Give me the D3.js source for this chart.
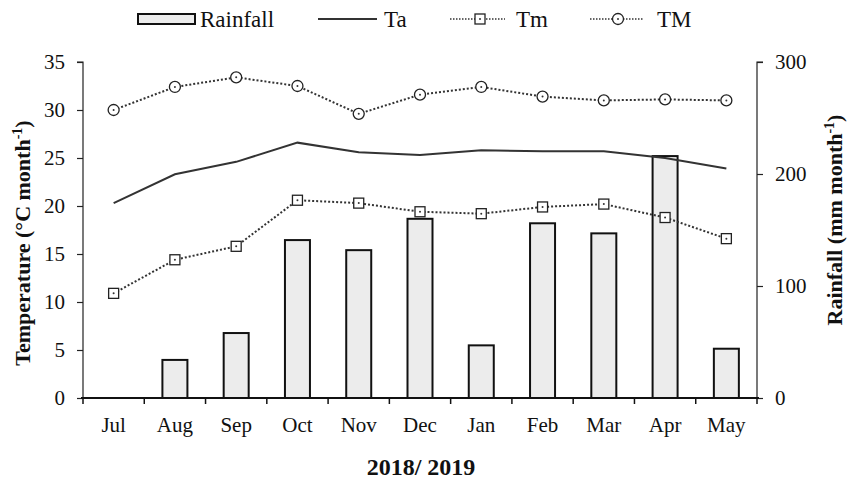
<!DOCTYPE html>
<html lang="en">
<head>
<meta charset="UTF-8">
<title>Temperature and rainfall</title>
<script src="https://d3js.org/d3.v7.min.js"></script>
<style>
  body { margin: 0; background: #fff; }
  svg text { font-family: "Liberation Serif", "Times New Roman", serif; fill: #111; }
</style>
</head>
<body>
<svg id="chart" width="854" height="482"></svg>
<script>
// data
var months = ['Jul', 'Aug', 'Sep', 'Oct', 'Nov', 'Dec', 'Jan', 'Feb', 'Mar', 'Apr', 'May'];
var rainfall = [0, 34, 58, 141, 132, 160, 47, 156, 147, 216, 44];
var ta = [20.3, 23.3, 24.6, 26.6, 25.6, 25.3, 25.8, 25.7, 25.7, 25.0, 23.9];
var tm = [10.9, 14.4, 15.8, 20.6, 20.3, 19.4, 19.2, 19.9, 20.2, 18.8, 16.6];
var tM = [30.0, 32.4, 33.4, 32.5, 29.6, 31.6, 32.4, 31.4, 31.0, 31.1, 31.0];
var tempTicks = [0, 5, 10, 15, 20, 25, 30, 35];
var rainTicks = [0, 100, 200, 300];

var svg = d3.select('#chart');
var pLeft = 83, pRight = 757, pTop = 62, pBottom = 398;

var x = d3.scaleBand().domain(months).range([pLeft, pRight]);
var yT = d3.scaleLinear().domain([0, 35]).range([pBottom, pTop]);
var yR = d3.scaleLinear().domain([0, 300]).range([pBottom, pTop]);
var cx = function(i){ return x(months[i]) + x.bandwidth() / 2; };

// bars (Jul has no rain, so no bar)
var barW = 25;
var rainData = rainfall.map(function(v, i){ return {i: i, v: v}; })
    .filter(function(d){ return d.v > 0; });
svg.append('g').selectAll('rect')
    .data(rainData)
    .enter()
    .append('rect')
    .attr('x', function(d){ return cx(d.i) - barW / 2; })
    .attr('y', function(d){ return yR(d.v); })
    .attr('width', barW)
    .attr('height', function(d){ return pBottom - yR(d.v); })
    .attr('fill', '#ececec')
    .attr('stroke', '#111')
    .attr('stroke-width', 2);

// lines
var line = d3.line().x(function(d, i){ return cx(i); }).y(function(d){ return yT(d); });
svg.append('path').datum(ta).attr('d', line)
    .attr('fill', 'none').attr('stroke', '#333').attr('stroke-width', 2);
svg.append('path').datum(tm).attr('d', line)
    .attr('fill', 'none').attr('stroke', '#333').attr('stroke-width', 2).attr('stroke-dasharray', '2,2');
svg.append('path').datum(tM).attr('d', line)
    .attr('fill', 'none').attr('stroke', '#333').attr('stroke-width', 2).attr('stroke-dasharray', '2,2');

function square(g, px, py){
    g.append('rect').attr('x', px - 5).attr('y', py - 5).attr('width', 10).attr('height', 10)
        .attr('fill', '#fff').attr('stroke', '#222').attr('stroke-width', 1.3);
    g.append('circle').attr('cx', px).attr('cy', py).attr('r', 1).attr('fill', '#333');
}
function ring(g, px, py){
    g.append('circle').attr('cx', px).attr('cy', py).attr('r', 5.5)
        .attr('fill', '#fff').attr('stroke', '#222').attr('stroke-width', 1.3);
    g.append('circle').attr('cx', px).attr('cy', py).attr('r', 1).attr('fill', '#333');
}
var marks = svg.append('g');
tm.forEach(function(d, i){ square(marks, cx(i), yT(d)); });
tM.forEach(function(d, i){ ring(marks, cx(i), yT(d)); });

// axes
var axL = svg.append('g').attr('transform', 'translate(' + pLeft + ',0)')
    .call(d3.axisLeft(yT).tickValues(tempTicks).tickSize(6).tickPadding(12));
var axR = svg.append('g').attr('transform', 'translate(' + pRight + ',0)')
    .call(d3.axisRight(yR).tickValues(rainTicks).tickSize(6).tickPadding(12));
[axL, axR].forEach(function(a){
    a.select('.domain').attr('stroke', '#222').attr('stroke-width', 1.2);
    a.selectAll('.tick line').attr('stroke', '#222').attr('stroke-width', 1.2);
    a.selectAll('text').style('font-size', '21px').style('font-family', '"Liberation Serif", serif').attr('fill', '#111');
});
axL.select('.domain').attr('d', 'M-6,' + pTop + 'H0V' + pBottom);
axR.select('.domain').attr('d', 'M6,' + pTop + 'H0V' + pBottom);

// x axis: ticks at band edges
var xg = svg.append('g');
xg.append('line').attr('x1', pLeft - 2).attr('x2', pRight + 2).attr('y1', pBottom).attr('y2', pBottom)
    .attr('stroke', '#111').attr('stroke-width', 2);
var edges = months.map(function(m){ return x(m); }).concat([pRight]);
xg.selectAll('.xt').data(edges).enter().append('line')
    .attr('x1', function(d){ return d; }).attr('x2', function(d){ return d; })
    .attr('y1', pBottom).attr('y2', pBottom + 6)
    .attr('stroke', '#111').attr('stroke-width', 1.5);
xg.selectAll('.xl').data(months).enter().append('text')
    .attr('x', function(d, i){ return cx(i); })
    .attr('y', 432)
    .attr('text-anchor', 'middle')
    .style('font-size', '21px')
    .text(function(d){ return d; });

// axis titles
var tL = svg.append('text')
    .attr('transform', 'translate(30,243) rotate(-90)')
    .attr('text-anchor', 'middle')
    .style('font-size', '22px').style('font-weight', 'bold');
tL.append('tspan').text('Temperature (°C month');
tL.append('tspan').attr('dy', -8).style('font-size', '14px').text('-1');
tL.append('tspan').attr('dy', 8).text(')');

var tR = svg.append('text')
    .attr('transform', 'translate(842,220) rotate(-90)')
    .attr('text-anchor', 'middle')
    .style('font-size', '22px').style('font-weight', 'bold');
tR.append('tspan').text('Rainfall (mm month');
tR.append('tspan').attr('dy', -8).style('font-size', '14px').text('-1');
tR.append('tspan').attr('dy', 8).text(')');

svg.append('text').attr('x', 421).attr('y', 475).attr('text-anchor', 'middle')
    .style('font-size', '24px').style('font-weight', 'bold').text('2018/ 2019');

// legend
var lg = svg.append('g');
var ly = 19;
lg.append('rect').attr('x', 138).attr('y', ly - 5).attr('width', 57).attr('height', 10)
    .attr('fill', '#ececec').attr('stroke', '#111').attr('stroke-width', 2);
lg.append('text').attr('x', 200).attr('y', ly + 8).style('font-size', '23px').text('Rainfall');
lg.append('line').attr('x1', 318).attr('x2', 377).attr('y1', ly).attr('y2', ly)
    .attr('stroke', '#333').attr('stroke-width', 2);
lg.append('text').attr('x', 384).attr('y', ly + 8).style('font-size', '23px').text('Ta');
lg.append('line').attr('x1', 450).attr('x2', 505).attr('y1', ly).attr('y2', ly)
    .attr('stroke', '#333').attr('stroke-width', 1.5).attr('stroke-dasharray', '1.5,1.5');
square(lg, 480, ly);
lg.append('text').attr('x', 516).attr('y', ly + 8).style('font-size', '23px').text('Tm');
lg.append('line').attr('x1', 590).attr('x2', 643).attr('y1', ly).attr('y2', ly)
    .attr('stroke', '#333').attr('stroke-width', 1.5).attr('stroke-dasharray', '1.5,1.5');
ring(lg, 618, ly);
lg.append('text').attr('x', 657).attr('y', ly + 8).style('font-size', '23px').text('TM');
</script>
</body>
</html>
